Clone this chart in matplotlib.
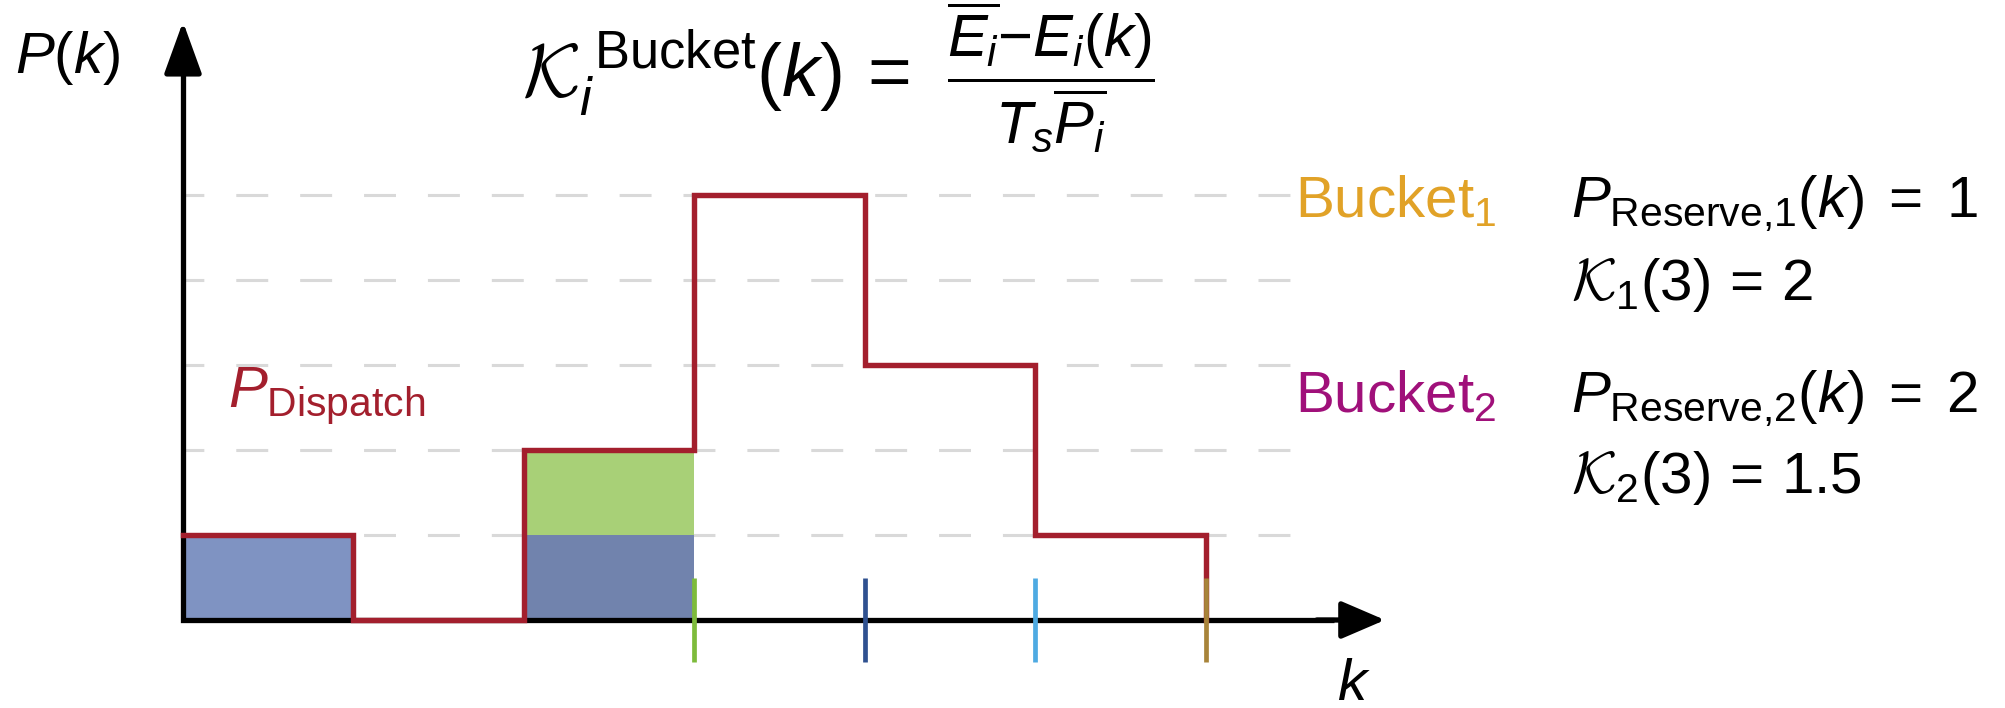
import numpy as np
import matplotlib
matplotlib.use("Agg")
import matplotlib.pyplot as plt

plt.rcParams["font.family"] = ["Liberation Sans", "DejaVu Sans"]
plt.rcParams["mathtext.fontset"] = "custom"
plt.rcParams["mathtext.rm"] = "Liberation Sans"
plt.rcParams["mathtext.it"] = "Liberation Sans:italic"
plt.rcParams["mathtext.bf"] = "Liberation Sans:bold"
plt.rcParams["mathtext.cal"] = "cmsy10"
plt.rcParams["lines.scale_dashes"] = False

# Dispatch power per time step k (step k covers [k, k+1))
k_edges = [0, 1, 2, 3, 4, 5, 6]
p_dispatch = [1, 0, 2, 5, 3, 1]

# Bucket 1 reserve blocks (start step, height, colour)
bucket1_k = [0, 2]
bucket1_p = [1, 1]
bucket1_colors = ["#7f93c2", "#7183ad"]

# Bucket 2 reserve block stacked on top of bucket 1
bucket2_k = [2]
bucket2_p = [1]
bucket2_bottom = [1]
bucket2_color = "#a8d077"

# Coloured time markers on the k axis
marker_k = [3, 4, 5, 6]
marker_colors = ["#7dbb3b", "#2f5190", "#4eaae2", "#a8843a"]

grid_levels = [1, 2, 3, 4, 5]

red = "#a31f2d"
orange = "#e1a227"
purple = "#a0107a"

formula_lhs = r"$\mathcal{K}_i^{\ \mathrm{Bucket}}(k)\,=$"
formula_rhs = r"$\dfrac{\overline{E_i}{-}E_i(k)}{T_s\overline{P_i}}$"
bucket_labels = [r"$\mathrm{Bucket}_1$", r"$\mathrm{Bucket}_2$"]
reserve_labels = [r"$P_{\mathrm{Reserve}{,}1}(k)\;=\;1$",
                  r"$P_{\mathrm{Reserve}{,}2}(k)\;=\;2$"]
kappa_labels = [r"$\mathcal{K}_1(3)\,=\,2$", r"$\mathcal{K}_2(3)\,=\,1.5$"]

W, H = 2006, 708
fig = plt.figure(figsize=(W / 100, H / 100), dpi=100)
ax = fig.add_axes([0, 0, 1, 1])
ux, uy = 170.5, 85.1          # pixels per unit step / unit power
ox, oy = 183, 620             # origin in pixels (from top-left)
ax.set_xlim(-ox / ux, (W - ox) / ux)
ax.set_ylim(-(H - oy) / uy, oy / uy)
ax.axis("off")

# dashed helper lines
ax.hlines(grid_levels, 0, 6.5, colors="#d9d9d9", lw=2.2,
          linestyles=[(8.0, (23, 23))], zorder=1)

# reserve blocks
ax.bar(bucket1_k, bucket1_p, width=1, align="edge", color=bucket1_colors,
       linewidth=0, zorder=2)
ax.bar(bucket2_k, bucket2_p, width=1, align="edge", bottom=bucket2_bottom,
       color=bucket2_color, linewidth=0, zorder=2)

# axes with arrow heads
ytop, xright = 7.03, 7.05
ax.plot([0, 0, xright - 0.3], [ytop - 0.5, 0, 0], color="k", lw=3.8,
        solid_joinstyle="miter", solid_capstyle="butt", zorder=3)
arrow_y = dict(arrowstyle="-|>,head_length=1.6,head_width=0.58", color="k",
               lw=3.8, mutation_scale=20, shrinkA=0, shrinkB=0,
               joinstyle="round")
arrow_x = dict(arrow_y, arrowstyle="-|>,head_length=1.35,head_width=0.58")
ax.annotate("", xy=(0, ytop), xytext=(0, ytop - 0.6), arrowprops=arrow_y,
            zorder=3)
ax.annotate("", xy=(xright, 0), xytext=(xright - 0.4, 0), arrowprops=arrow_x,
            zorder=3)

# dispatch step line
xs = np.repeat(k_edges, 2)[1:]
ys = np.append(np.repeat(p_dispatch, 2), 0)
ax.plot(xs, ys, color=red, lw=3.9, solid_joinstyle="miter", zorder=4)

# time markers
for k, c in zip(marker_k, marker_colors):
    ax.plot([k, k], [-0.49, 0.49], color=c, lw=3.4, solid_capstyle="butt",
            zorder=5)

def px(x, y):
    return ((x - ox) / ux, (oy - y) / uy)

fs = 42
ax.text(*px(15, 73), r"$P(k)$", fontsize=fs, ha="left", va="baseline")
ax.text(*px(1337, 700), r"$k$", fontsize=fs, ha="left", va="baseline")
ax.text(*px(228, 407), r"$P_{\mathrm{Dispatch}}$", fontsize=fs, color=red,
        ha="left", va="baseline")
ax.text(*px(522, 97), formula_lhs, fontsize=54, ha="left", va="baseline")
ax.text(*px(947, 95), formula_rhs, fontsize=43, ha="left", va="baseline")

for lab, col, yb in zip(bucket_labels, [orange, purple], [217, 412]):
    ax.text(*px(1295, yb), lab, fontsize=fs, color=col, ha="left",
            va="baseline")
for lab, yb in zip(reserve_labels, [217, 412]):
    ax.text(*px(1571, yb), lab, fontsize=fs, ha="left", va="baseline")
for lab, yb in zip(kappa_labels, [300, 493]):
    ax.text(*px(1571, yb), lab, fontsize=fs, ha="left", va="baseline")

fig.savefig("out.png", dpi=100)
